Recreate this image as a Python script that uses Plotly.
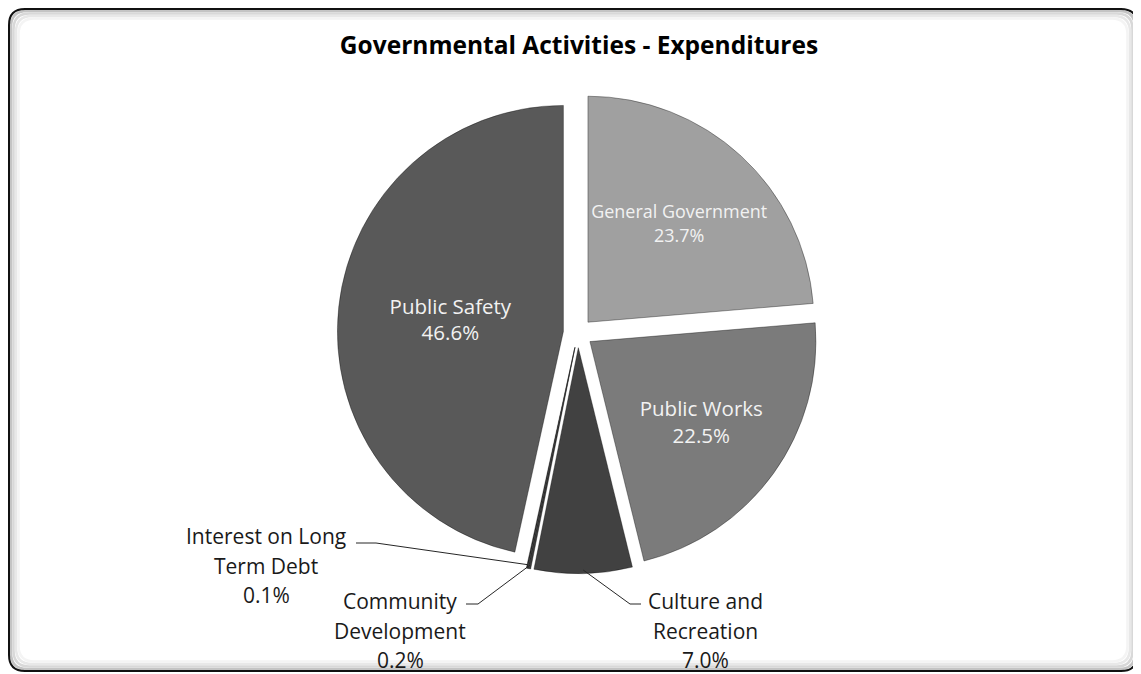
import math
import plotly.graph_objects as go

# ---- data ----
categories = ["General Government", "Public Works", "Culture and Recreation",
              "Community Development", "Interest on Long Term Debt", "Public Safety"]
values = [23.7, 22.5, 7.0, 0.2, 0.1, 46.6]
colors = ["#a0a0a0", "#7b7b7b", "#414141", "#3a3a3a", "#333333", "#595959"]
text_pos = ["inside", "inside", "none", "none", "none", "inside"]
# outside label lines (text broken as in the reference)
outside_labels = {
    "Interest on Long Term Debt": ["Interest on Long", "Term Debt"],
    "Community Development": ["Community", "Development"],
    "Culture and Recreation": ["Culture and", "Recreation"],
}

# ---- layout geometry (page pixels) ----
OFF = 8                      # page body margin
W, H = 1141 - OFF, 674 - OFF # figure size fitting the window
CX, CY = 578, 333            # pie centre (page px)
R = 226                      # pie radius
PULL = 0.065
FONT = "Open Sans, sans-serif"

def px(x):
    return (x - OFF) / W

def py(y):
    return 1 - (y - OFF) / H

half = R * (1 + PULL)
dom_x = [px(CX - half), px(CX + half)]
dom_y = [py(CY + half), py(CY - half)]

fig = go.Figure()
fig.add_trace(go.Pie(
    labels=categories,
    values=values,
    sort=False,
    direction="clockwise",
    rotation=0,
    pull=[PULL] * len(values),
    marker=dict(colors=colors, line=dict(color="rgba(0,0,0,0.35)", width=1)),
    texttemplate="%{label}<br>%{value:.1f}%",
    textposition=text_pos,
    insidetextorientation="horizontal",
    insidetextfont=dict(family=FONT, size=20.5, color="#f2f2f2"),
    domain=dict(x=dom_x, y=dom_y),
    hoverinfo="label+value",
    showlegend=False,
))

# ---- outside labels with leader lines ----
label_layout = {
    # name: (text centre x, first line y, elbow x, elbow y, line start x)
    "Interest on Long Term Debt": (266, 536, 376, 543, 356),
    "Community Development": (400, 601, 478, 604, 466),
    "Culture and Recreation": (705, 601, 630, 604, 641),
}
total = sum(values)
cum = 0.0
shapes = []
annotations = []
for name, v in zip(categories, values):
    start, end = cum, cum + v
    cum = end
    if name not in label_layout:
        continue
    mid = (start + end) / 2 / total * 2 * math.pi
    ex = CX + R * (1 + PULL) * math.sin(mid) * 0.985
    ey = CY - R * (1 + PULL) * math.cos(mid) * 0.985
    tx, ty, elx, ely, sx = label_layout[name]
    shapes.append(dict(
        type="path", xref="paper", yref="paper",
        path=f"M {px(sx)} {py(ely)} L {px(elx)} {py(ely)} L {px(ex)} {py(ey)}",
        line=dict(color="#262626", width=1),
    ))
    lines = outside_labels[name] + [f"{v:.1f}%"]
    for k, ln in enumerate(lines):
        annotations.append(dict(
            x=px(tx), y=py(ty + 29.5 * k), xref="paper", yref="paper",
            text=ln, showarrow=False, xanchor="center", yanchor="middle",
            font=dict(family=FONT, size=21, color="#1a1a1a"),
        ))

# ---- frame (rounded rectangle with soft inner shadow) ----
def rrect(x0, y0, x1, y1, r):
    rx, ry = r / W, r / H
    X0, X1, Y0, Y1 = px(x0), px(x1), py(y0), py(y1)
    return (f"M {X0 + rx} {Y0} L {X1 - rx} {Y0} "
            f"Q {X1} {Y0} {X1} {Y0 - ry} "
            f"L {X1} {Y1 + ry} Q {X1} {Y1} {X1 - rx} {Y1} "
            f"L {X0 + rx} {Y1} Q {X0} {Y1} {X0} {Y1 + ry} "
            f"L {X0} {Y0 - ry} Q {X0} {Y0} {X0 + rx} {Y0} Z")

FX0, FY0, FX1, FY1 = 9, 9, 1137, 671
for i, c in enumerate(["#c4c4c4", "#d8d8d8", "#e8e8e8", "#f4f4f4"]):
    d = 2 + i * 2.5
    shapes.append(dict(type="path", xref="paper", yref="paper",
                       path=rrect(FX0 + d, FY0 + d, FX1 - d, FY1 - d, 16),
                       line=dict(color=c, width=2.5), layer="below"))
shapes.append(dict(type="path", xref="paper", yref="paper",
                   path=rrect(FX0, FY0, FX1, FY1, 16),
                   line=dict(color="#111111", width=2), layer="above"))

fig.update_layout(
    width=W, height=H,
    margin=dict(l=0, r=0, t=0, b=0),
    paper_bgcolor="white",
    title=dict(text="<b>Governmental Activities - Expenditures</b>",
               x=px(579), y=py(45), xanchor="center", yanchor="middle",
               font=dict(family=FONT, size=24.5, color="#000000")),
    shapes=shapes,
    annotations=annotations,
)

fig.write_html("out.html")
